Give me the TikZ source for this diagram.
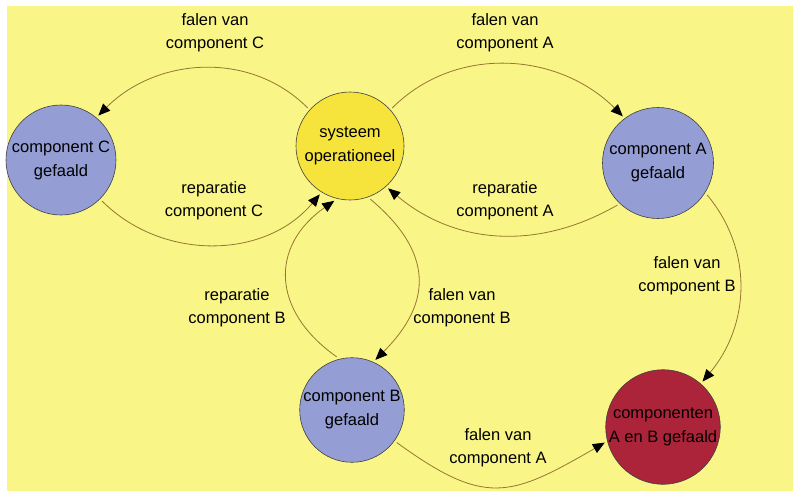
\documentclass[tikz,border=0pt]{standalone}
\usepackage{fontspec}
\setmainfont{Liberation Sans}
\usepackage{xcolor}
\usetikzlibrary{shapes, positioning, arrows.meta}

\definecolor{bgyellow}{RGB}{250,245,135}
\definecolor{sysyellow}{RGB}{246,228,60}
\definecolor{failblue}{RGB}{148,158,212}
\definecolor{failred}{RGB}{172,36,58}
\definecolor{linecol}{RGB}{150,118,50}

\tikzset{
    state/.style={circle, draw=black!75, line width=0.6pt, inner sep=0pt,
        outer sep=3pt, align=center, font=\fontsize{16.5}{24}\selectfont},
    trans/.style={draw=linecol, line width=0.8pt,
        -{Triangle[length=12pt,width=10pt,color=black]}},
    lbl/.style={align=center, font=\fontsize{16.5}{23}\selectfont}
}

\begin{document}
\begin{tikzpicture}[x=1pt, y=1pt]
        \useasboundingbox (0,0) rectangle (793,-491);
        \fill[bgyellow] (7,-6) rectangle (793,-491);

        % toestanden
        \node[state, fill=sysyellow, minimum size=108pt] (sys) at (350,-146) {systeem\\operationeel};
        \node[state, fill=failblue, minimum size=110pt] (compC) at (61,-160) {component C\\gefaald};
        \node[state, fill=failblue, minimum size=111pt] (compA) at (658,-163) {component A\\gefaald};
        \node[state, fill=failblue, minimum size=104pt] (compB) at (352,-410) {component B\\gefaald};
        \node[state, fill=failred, minimum size=112pt] (compAB) at (663,-427) {componenten\\A en B gefaald};

        % overgangen
        \draw[trans] (sys.138) to[out=135, in=45] (compC.50);
        \draw[trans] (compC.-45) to[out=-45, in=-130] (sys.-122);
        \draw[trans] (sys.42) to[out=45, in=135] (compA.127);
        \draw[trans] (compA.-134) to[out=-150, in=-40] (sys.-48);
        \draw[trans] (compB.106) to[out=145, in=-145, looseness=1.3] (sys.-106);
        \draw[trans] (sys.-69) to[out=-40, in=45, looseness=1.3] (compB.65);
        \draw[trans] (compA.-33) to[out=-50, in=50] (compAB.49);
        \draw[trans] (compB.-36) to[out=-36, in=-150, looseness=1.35] (compAB.195);

        % labels
        \node[lbl] (lblFC) at (215,-33) {falen van\\component C};
        \node[lbl] (lblFA) at (505,-33) {falen van\\component A};
        \node[lbl] (lblRC) at (214,-201) {reparatie\\component C};
        \node[lbl] (lblRA) at (505,-201) {reparatie\\component A};
        \node[lbl] (lblRB) at (237,-308) {reparatie\\component B};
        \node[lbl] (lblFB) at (462,-308) {falen van\\component B};
        \node[lbl] (lblFBA) at (687,-276) {falen van\\component B};
        \node[lbl] (lblFAB) at (498,-448) {falen van\\component A};
    \end{tikzpicture}
\end{document}
